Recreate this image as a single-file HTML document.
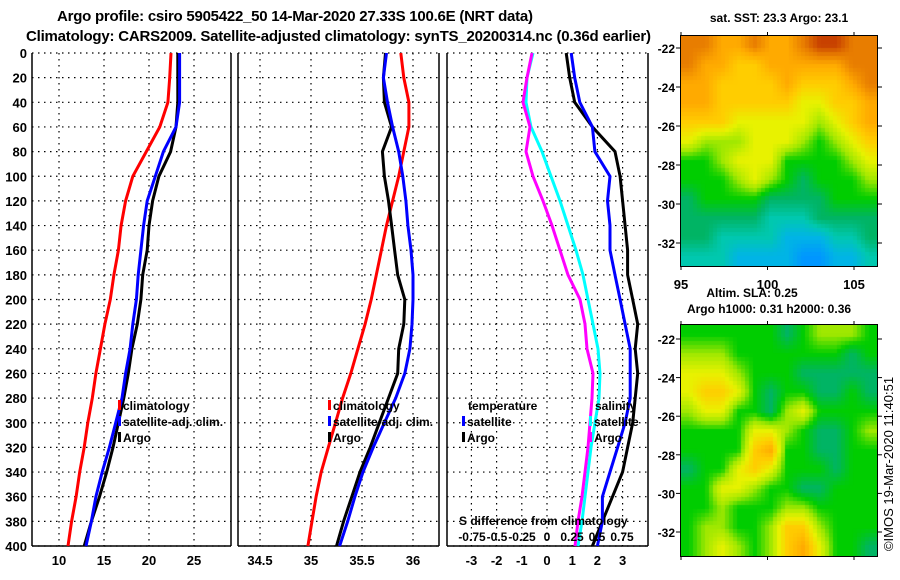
<!DOCTYPE html>
<html><head><meta charset="utf-8"><style>
html,body{margin:0;padding:0;background:#fff;}
#wrap{position:relative;width:900px;height:580px;overflow:hidden;}
svg{position:absolute;left:0;top:0;}
canvas{position:absolute;}
text{font-family:"Liberation Sans",sans-serif;font-weight:bold;fill:#000;}
</style></head><body>
<div id="wrap">
<svg id="svg" width="900" height="580"></svg>
<canvas id="sst" width="196" height="230" style="left:681px;top:36px"></canvas>
<canvas id="sla" width="196" height="231" style="left:681px;top:325px"></canvas>
</div>
<script>
// ---- data ----
const depths=[0,20,40,60,80,100,120,140,160,180,200,220,240,260,280,300,320,340,360,380,400];
const climT=[22.44,22.3,22.1,21.2,19.7,18.2,17.4,16.9,16.6,16.1,15.7,15.1,14.6,14.1,13.7,13.2,12.8,12.3,11.9,11.4,11.0];
const satT=[23.4,23.4,23.4,23.0,21.6,20.7,19.8,19.4,19.1,18.8,18.6,18.2,17.9,17.4,17.0,16.3,15.6,14.8,14.1,13.6,13.0];
const argoT=[23.2,23.2,23.2,23.0,22.4,21.1,20.4,20.0,19.8,19.3,19.1,18.7,18.1,17.7,17.2,16.6,16.0,15.3,14.5,13.6,12.8];
const climS=[35.88,35.91,35.96,35.96,35.91,35.86,35.80,35.74,35.69,35.64,35.59,35.53,35.46,35.39,35.31,35.24,35.17,35.10,35.05,35.01,34.97];
const satS=[35.74,35.71,35.75,35.80,35.86,35.90,35.93,35.95,35.98,36.0,36.0,35.99,35.97,35.92,35.83,35.72,35.61,35.51,35.43,35.36,35.28];
const argoS=[35.73,35.71,35.72,35.79,35.70,35.72,35.76,35.79,35.82,35.85,35.92,35.91,35.86,35.85,35.76,35.67,35.58,35.48,35.40,35.32,35.25];
const depthTicks=[0,20,40,60,80,100,120,140,160,180,200,220,240,260,280,300,320,340,360,380,400];
const tTicks=[10,15,20,25];
const sTicks=[34.5,35,35.5,36];
const dTicks=[-3,-2,-1,0,1,2,3];
const dsTicks=[-0.75,-0.5,-0.25,0,0.25,0.5,0.75];
const sstGrid=[
[9,9,8,8,9,8,8,9,10,10,9,9],
[9,8,8,7,7,8,8,8,8,8,9,9],
[8,8,7,7,7,7,8,7,7,7,8,9],
[8,8,7,7,7,7,7,6,6,7,7,8],
[7,7,7,6,6,6,6,6,5,6,7,8],
[6,5,5,5,6,6,6,5,4,5,6,7],
[4,4,5,6,6,6,4,4,4,4,5,6],
[4,4,4,5,6,5,4,3,4,4,4,5],
[3,4,4,4,4,3,3,3,3,4,4,4],
[3,3,3,3,3,2,2,2,3,3,3,3],
[3,3,2,2,2,2,1,1,1,2,2,3],
[2,2,2,1,1,1,1,0,0,1,1,2]];
const slaGrid=[
[4,4,4,4,4,4,3,4,5,5,5,4],
[5,5,5,4,4,4,4,4,4,4,3,4],
[6,6,6,5,4,4,4,3,3,3,3,3],
[6,7,7,6,4,3,4,4,3,3,4,3],
[5,6,6,4,4,3,5,6,4,4,4,4],
[4,4,4,4,6,6,5,4,3,3,4,5],
[4,4,4,4,7,8,4,4,3,3,4,4],
[3,4,4,6,7,6,4,4,4,3,4,4],
[4,4,6,6,5,4,4,3,3,4,4,4],
[4,4,5,4,4,4,5,5,4,4,4,4],
[4,5,5,4,4,5,7,7,5,4,4,4],
[4,5,6,5,4,5,7,8,6,4,4,3]];
const latTicks=[-22,-24,-26,-28,-30,-32];
const lonTicks=[95,100,105];

// ---- scales ----
const yD=d=>53+d*1.2325;
const xT=v=>59+(v-10)*9;
const xS=v=>311+(v-35)*102;
const xDT=v=>547+v*25.2;
const xDS=v=>547+v*100;
const NS='http://www.w3.org/2000/svg';
const svg=document.getElementById('svg');
function mk(tag,attrs,parent){const e=document.createElementNS(NS,tag);for(const k in attrs)e.setAttribute(k,attrs[k]);(parent||svg).appendChild(e);return e;}
function txt(s,x,y,size,anchor,parent){const t=mk('text',{x:x,y:y,'font-size':size,'text-anchor':anchor||'start'},parent);t.textContent=s;return t;}

// titles
let t1=txt('Argo profile: csiro 5905422_50 14-Mar-2020 27.33S 100.6E (NRT data)',57,21,15);
t1.setAttribute('textLength','476');


let t2=txt('Climatology: CARS2009. Satellite-adjusted climatology: synTS_20200314.nc (0.36d earlier)',26,41,15);
t2.setAttribute('textLength','625');



const panels=[{l:32,r:231,name:'temperature-panel'},{l:238,r:439,name:'salinity-panel'},{l:447,r:648,name:'difference-panel'}];
panels.forEach(p=>{
  const g=mk('g',{});
  
  
  depthTicks.forEach(d=>{mk('line',{x1:p.l,x2:p.r,y1:yD(d),y2:yD(d),stroke:'#000','stroke-width':1.2,'stroke-dasharray':'1.5,4.5'},g);});
  mk('line',{x1:p.l,x2:p.l,y1:53,y2:546,stroke:'#000','stroke-width':1.5},g);
  mk('line',{x1:p.r,x2:p.r,y1:53,y2:546,stroke:'#000','stroke-width':1.5},g);
  mk('line',{x1:p.l,x2:p.r,y1:546,y2:546,stroke:'#000','stroke-width':1.5},g);
  p.g=g;
});
// depth labels
depthTicks.forEach(d=>{const t=txt(String(d),27,yD(d)+5,13,'end');
  
  });
function vgrid(p,ticks,sx,labels){ticks.forEach((v,i)=>{mk('line',{x1:sx(v),x2:sx(v),y1:53,y2:546,stroke:'#000','stroke-width':1.2,'stroke-dasharray':'1.5,4.5'},p.g);
  const t=txt(labels?labels[i]:String(v),sx(v),565,13,'middle');
  
  });}
vgrid(panels[0],tTicks,xT);
vgrid(panels[1],sTicks,xS);
vgrid(panels[2],dTicks,xDT);

function line(vals,sx,color,name,parent){
  const pts=vals.map((v,i)=>sx(v).toFixed(1)+','+yD(depths[i]).toFixed(1)).join(' ');
  const e=mk('polyline',{points:pts,fill:'none',stroke:color,'stroke-width':3,'stroke-linejoin':'miter'},parent);
  
  
}
line(climT,xT,'#f00','climatology-temperature-line',panels[0].g);
line(argoT,xT,'#000','argo-temperature-line',panels[0].g);
line(satT,xT,'#00f','satellite-temperature-line',panels[0].g);
line(climS,xS,'#f00','climatology-salinity-line',panels[1].g);
line(argoS,xS,'#000','argo-salinity-line',panels[1].g);
line(satS,xS,'#00f','satellite-salinity-line',panels[1].g);
const dSatS=satS.map((v,i)=>v-climS[i]);
const dArgoS=argoS.map((v,i)=>v-climS[i]);
const dSatT=satT.map((v,i)=>v-climT[i]);
const dArgoT=argoT.map((v,i)=>v-climT[i]);
line(dSatS,xDS,'#0ff','satellite-salinity-diff-line',panels[2].g);
line(dArgoS,xDS,'#f0f','argo-salinity-diff-line',panels[2].g);
line(dArgoT,xDT,'#000','argo-temperature-diff-line',panels[2].g);
line(dSatT,xDT,'#00f','satellite-temperature-diff-line',panels[2].g);

// legends
function legItem(x,y,color,label,g){
  if(color) mk('rect',{x:x,y:y-5,width:3,height:10,fill:color},g);
  const t=txt(label,x+(color?5:0),y+5,12,'start',g);
  
  
}
[[118,panels[0]],[328,panels[1]]].forEach(([x,p])=>{
  const g=mk('g',{});
  
  
  legItem(x,405,'#f00','climatology',g);
  legItem(x,421,'#00f','satellite-adj. clim.',g);
  legItem(x,437,'#000','Argo',g);
});
{
  const g=mk('g',{});
  
  
  legItem(468,405,null,'temperature',g);
  legItem(462,421,'#00f','satellite',g);
  legItem(462,437,'#000','Argo',g);
  legItem(595,405,null,'salinity',g);
  legItem(589,421,'#0ff','satellite',g);
  legItem(589,437,'#f0f','Argo',g);
  const t=txt('S difference from climatology',459,525,12,'start',g);
  
  
  dsTicks.forEach(v=>{const l=txt(String(v),xDS(v),541,12,'middle',g);
    
    });
}

// maps
function cmap(v){
  const st=[[0,0,150,255],[1,0,180,230],[2,0,200,175],[3,0,180,100],[4,0,205,0],[5,160,232,0],[6,232,242,0],[7,255,205,0],[8,255,170,0],[9,232,125,0],[10,200,65,0]];
  v=Math.max(0,Math.min(10,v));const i=Math.min(9,Math.floor(v));const f=v-i;
  const a=st[i],b=st[i+1];return 'rgb('+[1,2,3].map(k=>Math.round(a[k]+(b[k]-a[k])*f)).join(',')+')';
}
function drawMap(id,grid,blk){
  const c=document.getElementById(id),ctx=c.getContext('2d');
  const W=c.width,H=c.height,R=grid.length,C=grid[0].length;
  for(let y=0;y<H;y+=blk)for(let x=0;x<W;x+=blk){
    let gx=(x+blk/2)/W*C-0.5,gy=(y+blk/2)/H*R-0.5;
    gx=Math.max(0,Math.min(C-1,gx));gy=Math.max(0,Math.min(R-1,gy));
    const x0=Math.floor(gx),y0=Math.floor(gy),x1=Math.min(C-1,x0+1),y1=Math.min(R-1,y0+1),fx=gx-x0,fy=gy-y0;
    const v=grid[y0][x0]*(1-fx)*(1-fy)+grid[y0][x1]*fx*(1-fy)+grid[y1][x0]*(1-fx)*fy+grid[y1][x1]*fx*fy;
    ctx.fillStyle=cmap(v);ctx.fillRect(x,y,blk,blk);
  }
}
drawMap('sst',sstGrid,4);
drawMap('sla',slaGrid,4);

function mapAxes(top,bottom,latY,name,lonLabels){
  const g=mk('g',{});
  
  
  mk('rect',{x:680.5,y:top-0.5,width:197,height:bottom-top+1,fill:'none',stroke:'#000','stroke-width':1},g);
  latTicks.forEach(la=>{const y=latY(la);
    mk('line',{x1:676,x2:680,y1:y,y2:y,stroke:'#000'},g);
    mk('line',{x1:878,x2:882,y1:y,y2:y,stroke:'#000'},g);
    const t=txt(String(la),675,y+5,12,'end',g);
    
    });
  lonTicks.forEach(lo=>{const x=681+(lo-95)*17.3;
    mk('line',{x1:x,x2:x,y1:top-4,y2:top,stroke:'#000'},g);
    mk('line',{x1:x,x2:x,y1:bottom,y2:bottom+4,stroke:'#000'},g);
    if(lonLabels){const t=txt(String(lo),x,289,13,'middle',g);
      
      }});
}
mapAxes(36,266,la=>48+(-22-la)*19.5,'sst-map-axes',true);
mapAxes(325,556,la=>339+(-22-la)*19.3,'sla-map-axes',false);
let m1=txt('sat. SST: 23.3 Argo: 23.1',779,22,12,'middle');


let m2=txt('Altim. SLA: 0.25',752,297,12,'middle');


let m3=txt('Argo h1000: 0.31 h2000: 0.36',769,313,12,'middle');


let cp=mk('text',{x:0,y:0,'font-size':13,'text-anchor':'middle',transform:'translate(893,464) rotate(-90)',style:'font-weight:normal'});
cp.textContent='©IMOS 19-Mar-2020 11:40:51';


</script>
</body></html>
